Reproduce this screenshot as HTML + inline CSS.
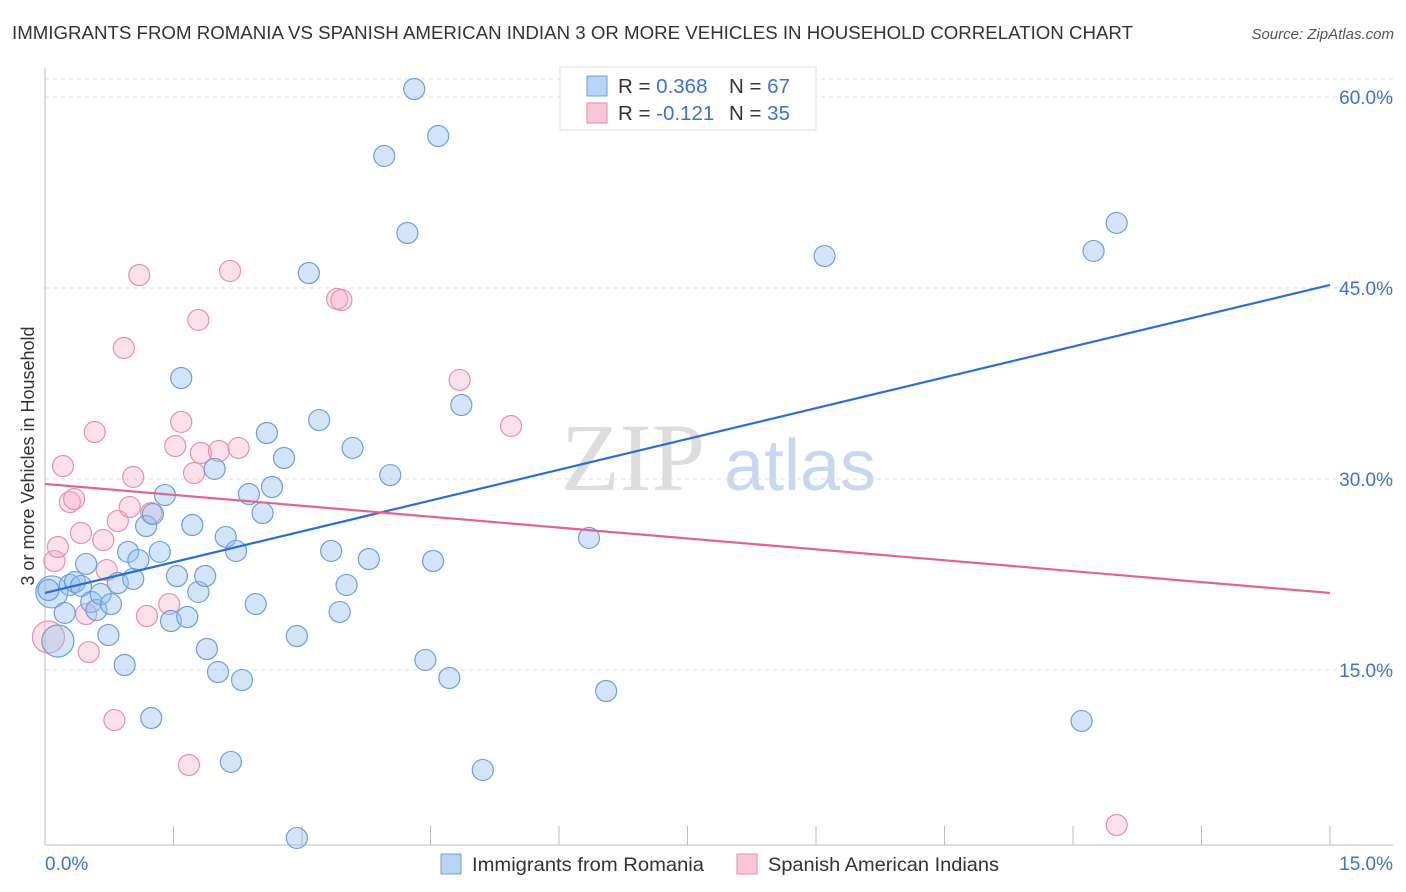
<!DOCTYPE html>
<html><head><meta charset="utf-8">
<style>
body{margin:0;background:#fff;font-family:"Liberation Sans",sans-serif;}
#wrap{position:relative;width:1406px;height:892px;overflow:hidden;}
</style></head>
<body>
<div id="wrap">
<svg id="chart" width="1406" height="892">
<text x="12" y="39" font-size="18" fill="#333" textLength="1121" lengthAdjust="spacingAndGlyphs">IMMIGRANTS FROM ROMANIA VS SPANISH AMERICAN INDIAN 3 OR MORE VEHICLES IN HOUSEHOLD CORRELATION CHART</text>
<text x="1394" y="39" font-size="15" fill="#555" text-anchor="end" font-style="italic">Source: ZipAtlas.com</text>
<text x="633" y="490" font-size="96" fill="#ddd" text-anchor="middle" font-family="Liberation Serif,serif">ZIP</text>
<text x="800" y="490" font-size="72" fill="#c8d8f0" text-anchor="middle">atlas</text>
<g id="grid"></g>
<g id="axes"></g>
<g id="pts"></g>
<g id="lines"></g>
<text transform="translate(34,456) rotate(-90)" font-size="18" fill="#333" text-anchor="middle">3 or more Vehicles in Household</text>
<g>
<rect x="560" y="67" width="256" height="63" fill="#fff" stroke="#ddd"/>
<rect x="587" y="76" width="20" height="20" fill="#b9d3f5" stroke="#6a9fe0"/>
<rect x="587" y="103" width="20" height="20" fill="#fac5d5" stroke="#e88aa8"/>
<text x="618" y="93" font-size="20.5" fill="#333">R = <tspan fill="#3b73d6">0.368</tspan></text>
<text x="729" y="93" font-size="20.5" fill="#333">N = <tspan fill="#3b73d6">67</tspan></text>
<text x="618" y="120" font-size="20.5" fill="#333">R = <tspan fill="#3b73d6">-0.121</tspan></text>
<text x="729" y="120" font-size="20.5" fill="#333">N = <tspan fill="#3b73d6">35</tspan></text>
</g>
<g>
<rect x="441" y="854" width="20" height="20" fill="#b9d3f5" stroke="#6a9fe0"/>
<text x="472" y="871" font-size="19.5" fill="#333" textLength="232" lengthAdjust="spacingAndGlyphs">Immigrants from Romania</text>
<rect x="737" y="854" width="20" height="20" fill="#fac5d5" stroke="#e88aa8"/>
<text x="768" y="871" font-size="19.5" fill="#333" textLength="231" lengthAdjust="spacingAndGlyphs">Spanish American Indians</text>
</g>
</svg>
</div>
<script>
const blueX=[0.08,0.15,0.04,0.23,0.29,0.35,0.42,0.48,0.54,0.60,0.65,0.77,0.74,0.85,0.93,0.97,1.03,1.09,1.18,1.24,1.26,1.34,1.40,1.47,1.54,1.59,1.66,1.72,1.79,1.87,1.89,1.98,2.02,2.11,2.17,2.23,2.30,2.38,2.46,2.54,2.59,2.65,2.79,2.94,2.94,3.08,3.20,3.34,3.44,3.52,3.59,3.78,3.96,4.03,4.23,4.31,4.44,4.53,4.59,4.72,4.86,5.11,6.35,6.55,9.10,12.10,12.24,12.51];
const blueY=[21.13,17.28,21.28,19.48,21.68,21.91,21.60,23.33,20.34,19.71,20.97,20.18,17.75,21.83,15.39,24.27,22.15,23.64,26.31,11.23,27.25,24.27,28.74,18.85,22.38,37.93,19.16,26.39,21.13,22.38,16.65,30.79,14.84,25.45,7.78,24.35,14.21,28.82,20.18,27.33,33.61,29.37,31.65,17.67,1.81,46.18,34.63,24.35,19.56,21.68,32.44,23.72,55.37,30.31,49.32,60.63,15.79,23.56,56.94,14.37,35.81,7.15,25.37,13.35,47.51,11.00,47.91,50.11];
const pinkX=[0.04,0.11,0.15,0.21,0.29,0.34,0.42,0.51,0.58,0.48,0.68,0.72,0.81,0.85,0.92,0.99,1.03,1.10,1.19,1.24,1.45,1.52,1.59,1.68,1.74,1.79,1.82,2.03,2.16,2.26,3.41,3.46,4.84,5.44,12.51];
const pinkY=[17.59,23.56,24.66,31.02,28.19,28.43,25.76,16.41,33.69,19.40,25.21,22.85,11.07,26.70,40.29,27.80,30.16,46.02,19.24,27.33,20.18,32.59,34.48,7.54,30.47,42.49,32.04,32.20,46.34,32.44,44.14,44.06,37.78,34.16,2.83];
const blueTrend=[21.05,45.24];
const pinkTrend=[29.61,21.05];
const yTicks=[15,30,45,60];
const yTickLabels=["15.0%","30.0%","45.0%","60.0%"];
const xTickLabels=["0.0%","15.0%"];
const NS="http://www.w3.org/2000/svg";
const sx=v=>45+v*1285/15;
const sy=v=>861-v*191/15;
function mk(tag,attrs,parent){const e=document.createElementNS(NS,tag);for(const k in attrs)e.setAttribute(k,attrs[k]);parent.appendChild(e);return e;}
const grid=document.getElementById('grid'),axes=document.getElementById('axes'),pts=document.getElementById('pts'),lines=document.getElementById('lines');
yTicks.forEach((t,i)=>{
 const g=mk('line',{x1:45,x2:1393,y1:sy(t),y2:sy(t),stroke:'#ddd','stroke-dasharray':'4,4'},grid);
 
 
 const l=mk('text',{x:1393,y:sy(t)+7,'font-size':19,fill:'#3b73d6','text-anchor':'end'},axes);
 l.textContent=yTickLabels[i];
 
 
});
const tg=mk('line',{x1:45,x2:1393,y1:79,y2:79,stroke:'#ddd','stroke-dasharray':'4,4'},grid);


const ya=mk('line',{x1:45,x2:45,y1:68,y2:845,stroke:'#bbb'},axes);


const xa=mk('line',{x1:45,x2:1393,y1:845,y2:845,stroke:'#bbb'},axes);


for(let i=1;i<=10;i++){
 const x=sx(i*1.5);
 const t=mk('line',{x1:x,x2:x,y1:826,y2:845,stroke:'#bbb'},axes);
 
 
}
[[0,'start',45],[15,'end',1393]].forEach((d,i)=>{
 const l=mk('text',{x:d[2],y:870,'font-size':19,fill:'#3b73d6','text-anchor':d[1]},axes);
 l.textContent=xTickLabels[i];
 
 
});
function dots(X,Y,fill,stroke,name,bigIdx){
 X.forEach((x,i)=>{
  const c=mk('circle',{cx:sx(x),cy:sy(Y[i]),r:bigIdx.includes(i)?16:10.5,fill:fill,stroke:stroke,'stroke-width':1.2},pts);
  
  
 });
}
dots(pinkX,pinkY,'rgba(248,170,195,0.35)','#e890ac','point-spanish-american-indian',[0]);
dots(blueX,blueY,'rgba(150,190,240,0.4)','#6a9fe0','point-romania',[0,1]);
const bl=mk('line',{x1:sx(0),y1:sy(blueTrend[0]),x2:sx(15),y2:sy(blueTrend[1]),stroke:'#2a6fd6','stroke-width':2.2},lines);


const pl=mk('line',{x1:sx(0),y1:sy(pinkTrend[0]),x2:sx(15),y2:sy(pinkTrend[1]),stroke:'#e0648e','stroke-width':2.2},lines);


</script>
</body></html>
